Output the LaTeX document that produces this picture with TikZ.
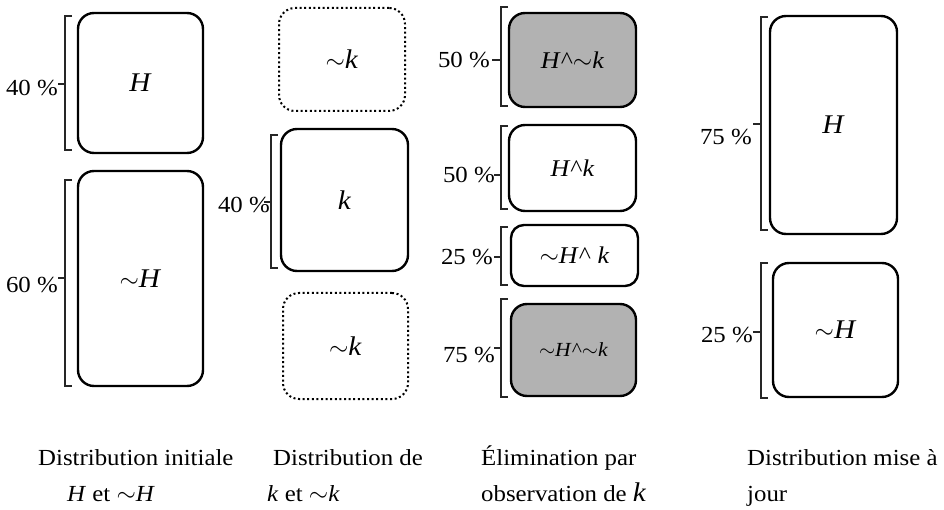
\documentclass[tikz,border=0pt]{standalone}
\usepackage{fontspec}
\setmainfont{Liberation Serif}[FakeStretch=1.08]
\newcommand\tld{\ensuremath{\sim}}
\newcommand\crt{{\upshape\textasciicircum}}
\begin{document}
\begin{tikzpicture}[x=1pt,y=-1pt,
  box/.style={draw, line width=2.4pt, rounded corners=16pt, inner sep=0pt,
    font=\fontsize{27}{27}\selectfont},
  dotbox/.style={box, line width=2pt, dash pattern=on 2pt off 2.6pt},
  shade/.style={fill=black!30},
  brk/.style={line width=1.1pt, black!85},
  pct/.style={anchor=east, inner sep=0pt, font=\fontsize{23}{23}\selectfont},
  captxt/.style={anchor=base west, inner sep=0pt, font=\fontsize{23}{23}\selectfont}]
\useasboundingbox (0,0) rectangle (944,510);
% column 1
\node[box, minimum width=125, minimum height=140] (c1a) at (140.5,83) {\textit{H}};
\node[box, minimum width=125, minimum height=215] (c1b) at (140.5,278.5) {\tld\textit{H}};
% column 2
\node[dotbox, minimum width=126, minimum height=103] (c2a) at (342,59.5) {\tld\textit{k}};
\node[box, minimum width=127, minimum height=142] (c2b) at (344.5,200) {\textit{k}};
\node[dotbox, minimum width=125, minimum height=106] (c2c) at (345.5,346) {\tld\textit{k}};
% column 3
\node[box, shade, minimum width=127, minimum height=94, font=\fontsize{24}{24}\selectfont] (c3a) at (572.5,60) {\textit{H}\crt\tld\textit{k}};
\node[box, minimum width=127, minimum height=86, font=\fontsize{24}{24}\selectfont] (c3b) at (572.5,168) {\textit{H}\crt\textit{k}};
\node[box, rounded corners=13pt, minimum width=127, minimum height=61, font=\fontsize{24}{24}\selectfont] (c3c) at (574.5,255.5) {\tld\textit{H}\crt{} \textit{k}};
\node[box, shade, minimum width=125, minimum height=92, font=\fontsize{20}{20}\selectfont] (c3d) at (573.5,350) {\tld\textit{H}\crt\tld\textit{k}};
% column 4
\node[box, minimum width=127, minimum height=218] (c4a) at (833.5,125) {\textit{H}};
\node[box, minimum width=125, minimum height=134] (c4b) at (835.5,330) {\tld\textit{H}};
% brackets
\draw[brk] (72,16) -- (65,16) -- (65,150) -- (72,150) (65,84) -- (58,84);
\draw[brk] (72,180) -- (65,180) -- (65,386) -- (72,386) (65,278) -- (58,278);
\draw[brk] (278,135) -- (271,135) -- (271,268) -- (278,268) (271,202) -- (264,202);
\draw[brk] (508,7) -- (501,7) -- (501,106) -- (508,106) (501,60) -- (492,60);
\draw[brk] (508,126) -- (501,126) -- (501,209) -- (508,209) (501,175) -- (494,175);
\draw[brk] (508,227) -- (501,227) -- (501,285) -- (508,285) (501,257) -- (494,257);
\draw[brk] (508,299) -- (501,299) -- (501,397) -- (508,397) (501,348) -- (494,348);
\draw[brk] (768,17) -- (761,17) -- (761,230) -- (768,230) (761,124) -- (753,124);
\draw[brk] (768,263) -- (761,263) -- (761,398) -- (768,398) (761,332) -- (753,332);
% percentages
\node[pct] (p1a) at (58,88) {40 \%};
\node[pct] (p1b) at (58,285) {60 \%};
\node[pct] (p2) at (270,205) {40 \%};
\node[pct] (p3a) at (490,60) {50 \%};
\node[pct] (p3b) at (495,175) {50 \%};
\node[pct] (p3c) at (493,257) {25 \%};
\node[pct] (p3d) at (495,355) {75 \%};
\node[pct] (p4a) at (752,137) {75 \%};
\node[pct] (p4b) at (753,335) {25 \%};
% captions
\node[captxt] (t1) at (38,465) {Distribution initiale};
\node[captxt] (t2) at (67,501) {\textit{H} et \tld\textit{H}};
\node[captxt] (t3) at (273,465) {Distribution de};
\node[captxt] (t4) at (267,501) {\textit{k} et \tld\textit{k}};
\node[captxt] (t5) at (481,465) {Élimination par};
\node[captxt] (t6) at (481,501) {observation de {\fontsize{27}{27}\selectfont\textit{k}}};
\node[captxt] (t7) at (747,465) {Distribution mise à};
\node[captxt] (t8) at (747,501) {jour};
\end{tikzpicture}
\end{document}
